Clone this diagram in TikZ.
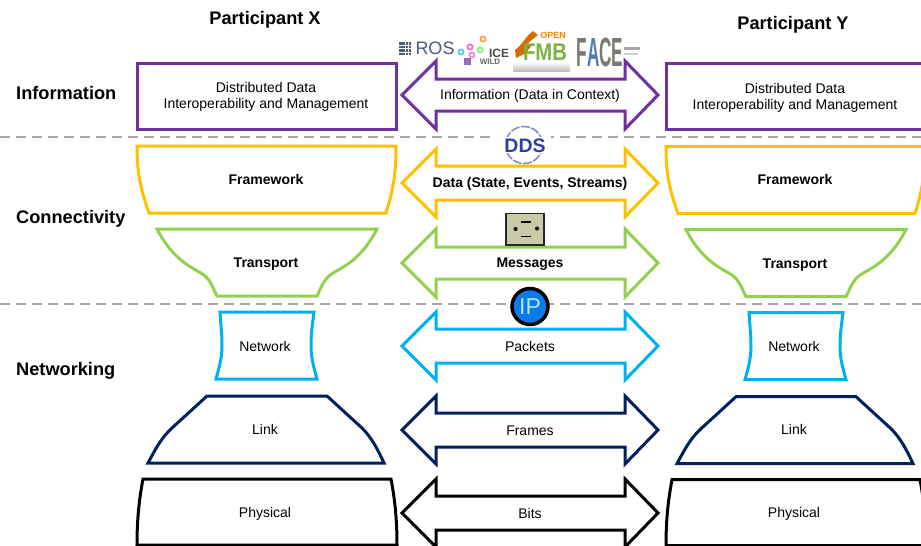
\documentclass[tikz,border=0pt]{standalone}
\usepackage{fontspec}
\setmainfont{Liberation Sans}
\usetikzlibrary{shapes.geometric}
\definecolor{cpurple}{HTML}{7030A0}
\definecolor{cyellow}{HTML}{FFC000}
\definecolor{cgreen}{HTML}{92D050}
\definecolor{ccyan}{HTML}{00B0F0}
\definecolor{cnavy}{HTML}{002060}
\definecolor{cgrey}{HTML}{A6A6A6}
\definecolor{rosblue}{HTML}{4A5A78}
\definecolor{plugfill}{HTML}{C9C9A7}
\definecolor{ipblue}{HTML}{0A7BEA}
\definecolor{ddsblue}{HTML}{2F3F9F}
\definecolor{facegrey}{HTML}{7A7A70}
\definecolor{faceblue}{HTML}{4F7FA8}
\tikzset{
  x=1pt,y=-1pt,
  layer/.style={draw=#1,line width=3pt,line join=miter,fill=white},
  lab/.style={inner sep=0pt,align=center,text=black,font=\fontsize{14}{16}\selectfont},
  labb/.style={lab,font=\fontsize{14}{16}\selectfont\bfseries},
  head/.style={inner sep=0pt,font=\fontsize{18.2}{20}\selectfont\bfseries,anchor=west},
  part/.style={inner sep=0pt,font=\fontsize{18.2}{20}\selectfont\bfseries},
  divider/.style={draw=cgrey,line width=2pt,dash pattern=on 10pt off 6pt},
}
% block arrow: colour, centre y, half head height, half shaft height
\newcommand{\blockarrow}[4]{%
  \draw[layer=#1] (402,#2) -- (436,#2-#3) -- (436,#2-#4) -- (625,#2-#4) -- (625,#2-#3)
    -- (658,#2) -- (625,#2+#3) -- (625,#2+#4) -- (436,#2+#4) -- (436,#2+#3) -- cycle;}
% protocol stack
\newcommand{\stack}[3]{%
\begin{scope}[shift={(#2,#3)}]
  \draw[layer=cpurple] (137,63) rectangle (396,129);
  \node[lab] (#1info) at (266,97) {Distributed Data\\Interoperability and Management};
  \draw[layer=cyellow] (137,146) -- (396,146) .. controls (396,175) and (393,190) .. (386,213)
     -- (149,213) .. controls (141,190) and (137,175) .. cycle;
  \node[labb] (#1frame) at (266,179) {Framework};
  \draw[layer=cgreen] (157,229) -- (377,229) .. controls (360,262) and (340,268) .. (330,275)
     .. controls (323,281) and (321,288) .. (317,296) -- (217,296)
     .. controls (213,288) and (211,281) .. (204,275)
     .. controls (194,268) and (174,262) .. cycle;
  \node[labb] (#1trans) at (266,264.5) {Transport};
  \draw[layer=ccyan] (220,312) -- (314,312) .. controls (312,328) and (311,334) .. (311,346)
     .. controls (311,358) and (314,368) .. (317,379) -- (216,379)
     .. controls (219,368) and (222,358) .. (222,346)
     .. controls (222,334) and (221,328) .. cycle;
  \node[lab] (#1net) at (265,346) {Network};
  \draw[layer=cnavy] (207,396) -- (327,396) -- (362,428) .. controls (372,438) and (378,450) .. (384,463)
     -- (148,463) .. controls (155,450) and (161,438) .. (172,428) -- cycle;
  \node[lab] (#1link) at (265,429) {Link};
  \draw[layer=black] (143,479) -- (391,479) .. controls (395,500) and (397,520) .. (397,545)
     -- (137,545) .. controls (137,520) and (139,500) .. cycle;
  \node[lab] (#1phys) at (265,513.5) {Physical};
\end{scope}}
\begin{document}
\begin{tikzpicture}
\useasboundingbox (0,0) rectangle (921,546);
\clip (0,0) rectangle (921,546);
\fill[white] (0,0) rectangle (921,546);

\coordinate (d1a) at (0,137); \coordinate (d1b) at (921,137);
\coordinate (d2a) at (0,304); \coordinate (d2b) at (921,304);
\draw[divider] (d1a) -- (d1b);
\draw[divider] (d2a) -- (d2b);
\fill[white] (496,130) rectangle (551,144);

\stack{x}{0}{0}
\stack{y}{529}{0.7}

\node[part] (px) at (265,20) {Participant X};
\node[part] (py) at (793,25) {Participant Y};
\node[head] (hinfo) at (16,93) {Information};
\node[head] (hconn) at (16,219) {Connectivity};
\node[head] (hnet) at (16,371) {Networking};

% logos
\foreach \i in {0,1,2,3}{\foreach \j in {0,1,2,3}{
  \fill[rosblue] (399+\i*3.3,42+\j*3.5) rectangle ++(2.5,2.5);}}
\node[inner sep=0pt,text=rosblue,font=\fontsize{18}{20}\selectfont] (ros) at (435,48.5) {ROS};
\foreach \cx/\cy/\cc in {461/52/cyan!70!white,470/47/magenta!60!white,480/50/green!60!white,483/39/orange!80!white,472/55/magenta!50!white}{
  \draw[\cc,line width=1.6pt] (\cx,\cy) circle (2.6);}
\fill[cpurple!70!white] (464,58) rectangle (471,65);
\node[inner sep=0pt,font=\fontsize{12}{12}\selectfont\bfseries,text=black!70] (ice) at (499,53) {ICE};
\node[inner sep=0pt,font=\fontsize{8}{8}\selectfont\bfseries,text=black!60] (icew) at (490,62) {WILD};
\shade[top color=white,bottom color=black!25] (513,62) rectangle (570,71);
\fill[orange!85!black] (515,50) .. controls (522,45) and (526,36) .. (533,31) -- (538,35) -- (528,43) -- (531,46) -- (526,53) -- (516,58) -- cycle;
\node[inner sep=0pt,font=\fontsize{9}{9}\selectfont\bfseries,text=orange] (open) at (553,35) {OPEN};
\node[inner sep=0pt,font=\fontsize{22}{22}\selectfont\bfseries,text=cgreen!85!black] (fmb) at (545,52) {\scalebox{0.92}[1.1]{FMB}};
\node[inner sep=0pt,font=\fontsize{22}{22}\selectfont\bfseries,text=facegrey] (face) at (600,52) {\scalebox{0.78}[1.85]{F\textcolor{faceblue}{A}C\textcolor{facegrey}{E}}};
\fill[black!35] (624,47) rectangle (640,50);
\fill[black!20] (624,53) rectangle (638,55);

\blockarrow{cpurple}{95}{34}{16}
\blockarrow{cyellow}{183}{34}{17}
\blockarrow{cgreen}{263}{34}{16}
\blockarrow{ccyan}{346}{34}{17}
\blockarrow{cnavy}{430}{34}{17}
\blockarrow{black}{513}{34}{17}

\node[lab] (ainfo) at (530,95.5) {Information (Data in Context)};
\node[labb] (adata) at (530,183.5) {Data (State, Events, Streams)};
\node[labb] (amsg) at (530,264.5) {Messages};
\node[lab] (apack) at (530,346) {Packets};
\node[lab] (aframe) at (530,430.5) {Frames};
\node[lab] (abits) at (530,513) {Bits};

% DDS logo
\draw[ddsblue!60!white,line width=1.6pt,dash pattern=on 9pt off 1.5pt] (524,145) circle (18.5);
\fill[white] (502,137) rectangle (547,153);
\node[inner sep=0pt,text=ddsblue,font=\fontsize{19.5}{20}\selectfont\bfseries] (dds) at (525,146) {DDS};

% plug icon
\draw[black!85,fill=plugfill,line width=1.6pt] (506,213.5) rectangle (544,245);
\fill[black] (515.5,229) circle (2);
\fill[black] (537,228.5) circle (2);
\fill[black] (521,235.5) rectangle (531,237);
\fill[black] (521,221) rectangle (531,222.5);

% IP logo
\node[circle,draw=black,line width=3.5pt,fill=ipblue,minimum size=36pt,inner sep=0pt,text=white!70!cyan,font=\fontsize{23}{23}\selectfont] (ip) at (530,306.5) {IP};
\end{tikzpicture}
\end{document}
